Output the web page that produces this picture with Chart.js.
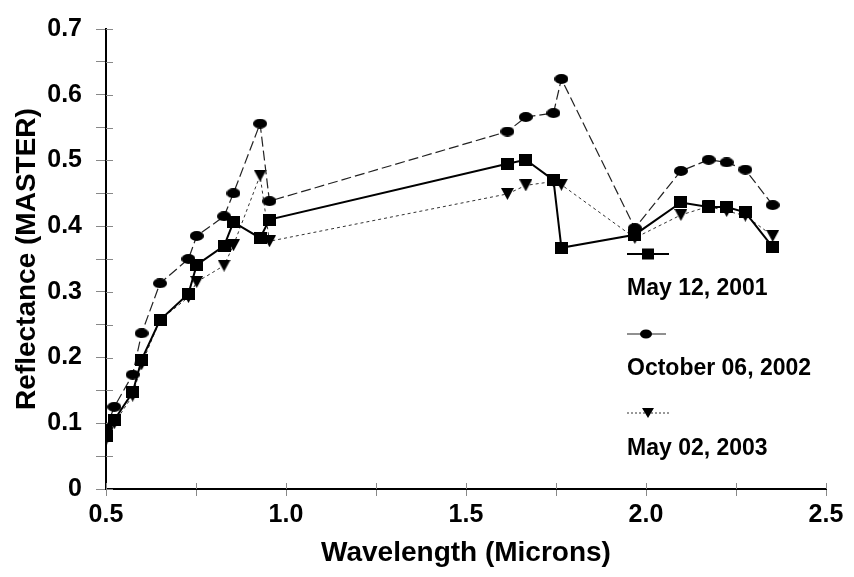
<!DOCTYPE html>
<html>
<head>
<meta charset="utf-8">
<script src="https://cdn.jsdelivr.net/npm/chart.js@4.4.0/dist/chart.umd.min.js"></script>
<style>
  html, body { margin: 0; padding: 0; background: #fff; }
  #wrap { position: relative; width: 854px; height: 577px; }
  #legend { position: absolute; left: 0; top: 0; width: 854px; height: 577px; pointer-events: none;
            font-family: "Liberation Sans", Arial, sans-serif; font-weight: bold; color: #000; }
  .lg-text { position: absolute; font-size: 23px; line-height: 23px; white-space: nowrap; }
  .lg-sample { position: absolute; }
</style>
</head>
<body>
<div id="wrap">
  <canvas id="c" width="854" height="577"></canvas>
  <div id="legend"></div>
</div>
<script>
// ---- Data ----
const wavelengths = [0.500, 0.523, 0.574, 0.599, 0.650, 0.729, 0.752, 0.828, 0.854, 0.928, 0.954,
                     1.615, 1.666, 1.743, 1.765, 1.969, 2.097, 2.174, 2.224, 2.276, 2.352];
const may2001 = [0.080, 0.105, 0.147, 0.197, 0.257, 0.297, 0.341, 0.370, 0.406, 0.382, 0.410,
                 0.495, 0.501, 0.470, 0.367, 0.387, 0.436, 0.429, 0.429, 0.421, 0.368];
const oct2002 = [0.092, 0.125, 0.174, 0.237, 0.313, 0.350, 0.385, 0.415, 0.450, 0.556, 0.438,
                 0.544, 0.566, 0.572, 0.624, 0.397, 0.484, 0.501, 0.497, 0.486, 0.432];
const may2003 = [0.075, 0.100, 0.142, 0.190, 0.257, 0.292, 0.315, 0.340, 0.371, 0.477, 0.377,
                 0.449, 0.462, 0.468, 0.463, 0.382, 0.417, 0.430, 0.423, 0.416, 0.385];
const seriesLabels = ["May 12, 2001", "October 06, 2002", "May 02, 2003"];
const xTickLabels = ["0.5", "1.0", "1.5", "2.0", "2.5"];
const yTickLabels = ["0", "0.1", "0.2", "0.3", "0.4", "0.5", "0.6", "0.7"];
const xTitle = "Wavelength (Microns)";
const yTitle = "Reflectance (MASTER)";

const FONT = '"Liberation Sans", Arial, sans-serif';

// ---- marker images ----
function makeMarker(kind, w, h) {
  const cv = document.createElement('canvas');
  cv.width = w; cv.height = h;
  const g = cv.getContext('2d');
  g.fillStyle = '#000';
  if (kind === 'square') {
    g.fillRect(0, 0, w, h);
  } else if (kind === 'ellipse') {
    g.beginPath(); g.ellipse(w / 2, h / 2, w / 2, h / 2, 0, 0, Math.PI * 2); g.fill();
  } else {
    g.beginPath(); g.moveTo(0, 0); g.lineTo(w, 0); g.lineTo(w / 2, h); g.closePath(); g.fill();
  }
  return cv;
}
const sqImg = makeMarker('square', 13, 12);
const ciImg = makeMarker('ellipse', 14, 10);
const trImg = makeMarker('triangle', 13, 12);

function pts(vals) { return wavelengths.map((x, i) => ({ x: x, y: vals[i] })); }

const datasets = [
  { label: seriesLabels[0], data: pts(may2001), borderColor: '#000', borderWidth: 2, borderDash: [],
    pointStyle: sqImg, order: 1 },
  { label: seriesLabels[1], data: pts(oct2002), borderColor: '#222', borderWidth: 1.2, borderDash: [10, 4],
    pointStyle: ciImg, order: 2 },
  { label: seriesLabels[2], data: pts(may2003), borderColor: '#333', borderWidth: 1, borderDash: [3, 3],
    pointStyle: trImg, order: 3 }
];
datasets.forEach(d => { d.tension = 0; d.fill = false; d.pointRadius = 7; d.pointHoverRadius = 7; });

// inner half of the crossing tick marks, placed with the library's scales
const innerTicks = {
  id: 'innerTicks',
  beforeDatasetsDraw(chart) {
    const ctx = chart.ctx, xs = chart.scales.x, ys = chart.scales.y, a = chart.chartArea;
    ctx.save();
    ctx.strokeStyle = '#888'; ctx.lineWidth = 1;
    xs.ticks.forEach(t => {
      const px = Math.round(xs.getPixelForValue(t.value)) + 0.5;
      ctx.beginPath(); ctx.moveTo(px, a.bottom); ctx.lineTo(px, a.bottom - 6); ctx.stroke();
    });
    ys.ticks.forEach(t => {
      const py = Math.round(ys.getPixelForValue(t.value)) + 0.5;
      ctx.beginPath(); ctx.moveTo(a.left, py); ctx.lineTo(a.left + 7, py); ctx.stroke();
    });
    ctx.restore();
  }
};

function isMultiple(v, step) { const r = Math.round(v / step); return Math.abs(v - r * step) < 1e-6; }

const chart = new Chart(document.getElementById('c'), {
  type: 'line',
  data: { datasets: datasets },
  options: {
    responsive: false,
    animation: false,
    devicePixelRatio: 1,
    layout: { padding: { top: 18, right: 28, left: 0, bottom: 0 } },
    plugins: { legend: { display: false }, tooltip: { enabled: false } },
    events: [],
    scales: {
      x: {
        type: 'linear', min: 0.5, max: 2.5,
        ticks: {
          stepSize: 0.25, autoSkip: false, maxRotation: 0, padding: 4, color: '#000',
          font: { family: FONT, size: 25, weight: 'bold' },
          callback: (v) => {
            if (!isMultiple(v, 0.5)) return '';
            const idx = Math.round((v - 0.5) / 0.5);
            return xTickLabels[idx] !== undefined ? xTickLabels[idx] : '';
          }
        },
        grid: { display: true, drawOnChartArea: false, drawTicks: true, tickLength: 7, color: '#888', lineWidth: 1 },
        border: { display: true, color: '#000', width: 2 },
        title: { display: true, text: xTitle, color: '#000', padding: { top: 0, bottom: 7 },
                 font: { family: FONT, size: 28, weight: 'bold' } },
        afterFit: (s) => { s.height = 88; }
      },
      y: {
        type: 'linear', min: 0, max: 0.7,
        ticks: {
          stepSize: 0.05, autoSkip: false, padding: 14, color: '#000',
          font: { family: FONT, size: 25, weight: 'bold' },
          callback: (v) => {
            if (!isMultiple(v, 0.1)) return '';
            const idx = Math.round(v / 0.1);
            return yTickLabels[idx] !== undefined ? yTickLabels[idx] : '';
          }
        },
        grid: { display: true, drawOnChartArea: false, drawTicks: true, tickLength: 10, color: '#888', lineWidth: 1 },
        border: { display: true, color: '#000', width: 2 },
        title: { display: true, text: yTitle, color: '#000', padding: { top: 10, bottom: 0 },
                 font: { family: FONT, size: 28, weight: 'bold' } },
        afterFit: (s) => { s.width = 106; }
      }
    }
  },
  plugins: [innerTicks]
});

// ---- HTML legend, built from the datasets ----
(function buildLegend() {
  const lg = document.getElementById('legend');
  const sampleTops = [245, 325, 404];
  const textTops = [276, 356, 436];
  const shapes = ['square', 'ellipse', 'triangle'];
  chart.data.datasets.forEach((d, i) => {
    const svgNS = 'http://www.w3.org/2000/svg';
    const svg = document.createElementNS(svgNS, 'svg');
    svg.setAttribute('width', '44'); svg.setAttribute('height', '18');
    svg.setAttribute('class', 'lg-sample');
    svg.style.left = '627px'; svg.style.top = sampleTops[i] + 'px';
    const line = document.createElementNS(svgNS, 'line');
    line.setAttribute('x1', '0'); line.setAttribute('x2', i === 1 ? '39' : '42');
    line.setAttribute('y1', '9'); line.setAttribute('y2', '9');
    line.setAttribute('stroke', d.borderColor);
    line.setAttribute('stroke-width', String(d.borderWidth));
    if (d.borderDash && d.borderDash.length) line.setAttribute('stroke-dasharray', i === 2 ? '2,2' : '6,3');
    if (i === 1) line.removeAttribute('stroke-dasharray');
    svg.appendChild(line);
    let m;
    if (shapes[i] === 'square') {
      m = document.createElementNS(svgNS, 'rect');
      m.setAttribute('x', '15'); m.setAttribute('y', '3.5'); m.setAttribute('width', '12'); m.setAttribute('height', '11');
    } else if (shapes[i] === 'ellipse') {
      m = document.createElementNS(svgNS, 'ellipse');
      m.setAttribute('cx', '19'); m.setAttribute('cy', '9'); m.setAttribute('rx', '6'); m.setAttribute('ry', '4.5');
    } else {
      m = document.createElementNS(svgNS, 'polygon');
      m.setAttribute('points', '15,4 27,4 21,14');
    }
    m.setAttribute('fill', '#000');
    svg.appendChild(m);
    lg.appendChild(svg);
    const t = document.createElement('div');
    t.className = 'lg-text';
    t.style.left = '627px'; t.style.top = textTops[i] + 'px';
    t.textContent = d.label;
    lg.appendChild(t);
  });
})();
</script>
</body>
</html>
